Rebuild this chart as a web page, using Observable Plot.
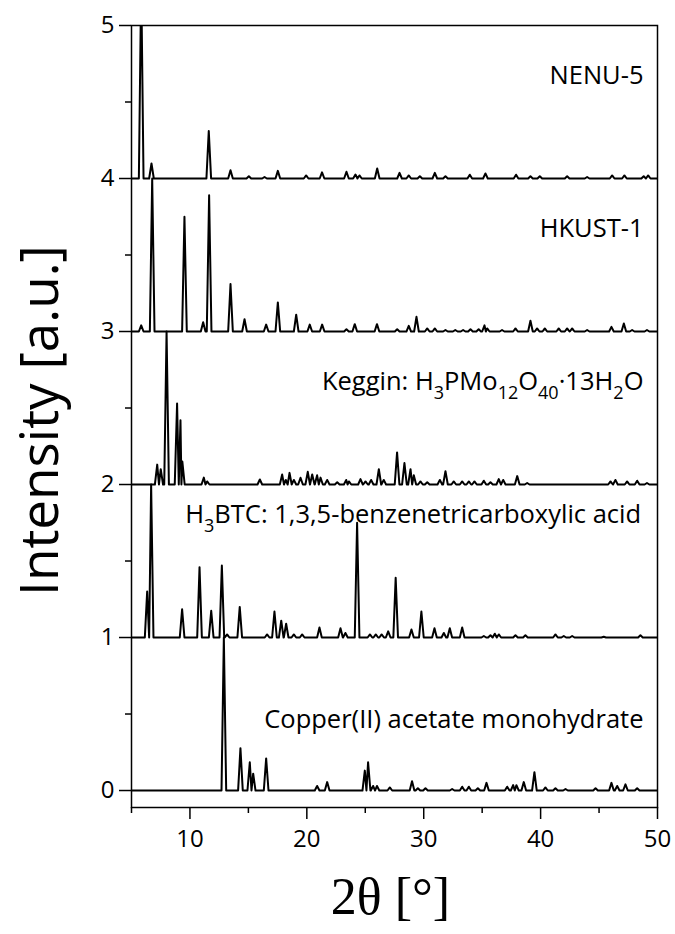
<!DOCTYPE html>
<html><head><meta charset="utf-8">
<script src="https://cdn.jsdelivr.net/npm/d3@7"></script>
<script src="https://cdn.jsdelivr.net/npm/@observablehq/plot@0.6"></script>
<style>body{margin:0;background:#fff} svg{display:block;overflow:visible}</style>
</head><body><div id="chart"></div>
<script>
// ---- data ----
const seriesNames = ["NENU-5", "HKUST-1", "Keggin", "H3BTC", "Copper(II) acetate"];
const offsets = [4, 3, 2, 1, 0];

const nenuPos = [5.83, 6.71, 11.61, 13.47, 15.04, 16.38, 17.52, 19.94, 21.3, 23.39, 24.16, 24.5, 26.02, 27.93, 28.72, 29.67, 30.95, 31.86, 33.94, 35.28, 37.9, 39.13, 39.93, 42.27, 43.98, 46.12, 47.17, 48.82, 49.2];
const nenuH   = [1.3, 0.098, 0.31, 0.054, 0.015, 0.01, 0.05, 0.02, 0.04, 0.044, 0.026, 0.02, 0.065, 0.037, 0.02, 0.015, 0.037, 0.015, 0.025, 0.033, 0.025, 0.015, 0.015, 0.015, 0.01, 0.02, 0.02, 0.015, 0.02];

const hkustPos = [5.83, 6.77, 9.53, 11.13, 11.64, 13.47, 14.67, 16.52, 17.52, 19.09, 20.25, 21.31, 23.39, 24.1, 26.0, 27.73, 28.72, 29.38, 30.3, 30.95, 31.86, 32.7, 33.37, 34.0, 34.7, 35.2, 35.43, 36.7, 37.85, 39.13, 39.7, 40.36, 41.55, 42.27, 42.7, 43.98, 46.06, 47.12, 47.83, 49.1];
const hkustH   = [0.04, 1.0, 0.75, 0.06, 0.89, 0.31, 0.08, 0.045, 0.19, 0.11, 0.045, 0.045, 0.015, 0.048, 0.048, 0.015, 0.037, 0.096, 0.02, 0.02, 0.01, 0.01, 0.01, 0.015, 0.015, 0.04, 0.02, 0.01, 0.02, 0.07, 0.02, 0.02, 0.02, 0.02, 0.02, 0.01, 0.03, 0.052, 0.01, 0.01];

const kegginPos = [7.2, 7.5, 8.0, 8.9, 9.19, 9.35, 11.19, 11.47, 15.98, 17.89, 18.2, 18.52, 18.89, 19.46, 20.08, 20.46, 20.88, 21.17, 21.74, 22.6, 23.37, 23.6, 24.59, 25.02, 25.5, 26.16, 26.58, 27.72, 28.35, 28.87, 29.15, 29.72, 30.3, 31.38, 31.86, 32.57, 33.29, 33.86, 34.34, 35.14, 35.71, 36.42, 36.8, 38.0, 38.85, 45.98, 46.4, 47.4, 48.26, 49.1];
const kegginH   = [0.13, 0.1, 1.0, 0.53, 0.42, 0.15, 0.045, 0.02, 0.033, 0.065, 0.03, 0.076, 0.03, 0.044, 0.083, 0.065, 0.06, 0.045, 0.03, 0.015, 0.03, 0.02, 0.035, 0.02, 0.03, 0.1, 0.03, 0.21, 0.14, 0.1, 0.06, 0.02, 0.015, 0.03, 0.087, 0.02, 0.02, 0.02, 0.02, 0.025, 0.015, 0.035, 0.03, 0.055, 0.01, 0.02, 0.03, 0.02, 0.025, 0.01];

const btcPos = [6.34, 6.68, 9.33, 10.82, 11.82, 12.73, 13.18, 14.26, 16.6, 17.23, 17.81, 18.23, 18.89, 19.6, 21.08, 22.88, 23.3, 24.3, 25.4, 25.9, 26.4, 26.96, 27.6, 28.95, 29.8, 30.92, 31.72, 32.23, 33.29, 35.14, 35.71, 36.08, 36.42, 37.85, 38.7, 41.27, 41.98, 42.7, 45.4, 48.54];
const btcH   = [0.3, 1.0, 0.185, 0.46, 0.175, 0.47, 0.02, 0.2, 0.02, 0.17, 0.11, 0.09, 0.02, 0.02, 0.065, 0.06, 0.03, 0.75, 0.02, 0.02, 0.02, 0.04, 0.39, 0.052, 0.17, 0.06, 0.03, 0.06, 0.065, 0.01, 0.015, 0.025, 0.02, 0.015, 0.015, 0.02, 0.01, 0.01, 0.005, 0.015];

const cuPos = [12.9, 14.32, 15.12, 15.41, 16.52, 20.88, 21.74, 24.96, 25.24, 25.67, 26.0, 27.1, 29.0, 29.5, 30.15, 32.43, 33.29, 33.86, 34.63, 35.37, 37.14, 37.65, 37.93, 38.56, 39.47, 40.41, 41.27, 42.13, 44.7, 46.06, 46.55, 47.26, 48.26];
const cuH   = [1.0, 0.277, 0.185, 0.11, 0.21, 0.03, 0.055, 0.13, 0.185, 0.03, 0.03, 0.02, 0.06, 0.015, 0.015, 0.01, 0.025, 0.025, 0.015, 0.05, 0.025, 0.035, 0.035, 0.055, 0.12, 0.02, 0.015, 0.01, 0.015, 0.05, 0.03, 0.04, 0.015];

const xTicks = [10, 20, 30, 40, 50];
const xMinor = [5, 15, 25, 35, 45];
const yTicks = [0, 1, 2, 3, 4, 5];
const yMinor = [0.5, 1.5, 2.5, 3.5, 4.5];

const labelText = ["NENU-5", "HKUST-1", "Keggin: H_{3}PMo_{12}O_{40}·13H_{2}O", "H_{3}BTC: 1,3,5-benzenetricarboxylic acid", "Copper(II) acetate monohydrate"];
const labelX = [48.8, 48.8, 48.8, 48.6, 48.8];
const labelY = [4.67, 3.67, 2.67, 1.8, 0.46];

// ---- build the line table (peak list -> narrow peaks on each baseline) ----
const W = 0.2;
function buildSeries(name, base, pos, h) {
  const pts = [{series: name, x: 5, y: base}];
  for (let i = 0; i < pos.length; i++) {
    const prev = i > 0 ? pos[i - 1] : 5;
    const next = i < pos.length - 1 ? pos[i + 1] : 50;
    const wl = Math.min(W, (pos[i] - prev) / 2), wr = Math.min(W, (next - pos[i]) / 2);
    pts.push({series: name, x: pos[i] - wl, y: base});
    pts.push({series: name, x: pos[i], y: base + h[i]});
    pts.push({series: name, x: pos[i] + wr, y: base});
  }
  pts.push({series: name, x: 50, y: base});
  return pts;
}
const allPos = [nenuPos, hkustPos, kegginPos, btcPos, cuPos];
const allH = [nenuH, hkustH, kegginH, btcH, cuH];
const lineData = seriesNames.flatMap((n, i) => buildSeries(n, offsets[i], allPos[i], allH[i]));
const labels = labelText.map((t, i) => ({text: t, x: labelX[i], y: labelY[i]}));

const chart = Plot.plot({
  width: 675, height: 934,
  marginLeft: 131, marginRight: 18, marginTop: 25, marginBottom: 127,
  x: {domain: [5, 50]},
  y: {domain: [-0.111, 5]},
  style: {fontFamily: "Open Sans", color: "black", background: "white"},
  marks: [
    Plot.line(lineData, {x: "x", y: "y", z: "series", stroke: "black", strokeWidth: 2, clip: true}),
    Plot.frame({stroke: "black", strokeWidth: 1.5}),
    Plot.axisX({ticks: xTicks, tickSize: 12, tickPadding: 10, fontSize: 24, strokeWidth: 1.5, label: null, tickFormat: d => String(d)}),
    Plot.axisX({ticks: xMinor, tickSize: 6, strokeWidth: 1.5, text: null, label: null}),
    Plot.axisY({ticks: yTicks, tickSize: 12, tickPadding: 5, fontSize: 24, strokeWidth: 1.5, label: null, tickFormat: d => String(d)}),
    Plot.axisY({ticks: yMinor, tickSize: 6, strokeWidth: 1.5, text: null, label: null}),
    Plot.text(labels, {x: "x", y: "y", text: "text", textAnchor: "end", fontSize: 25.5, fill: "black"}),
    Plot.text(["Intensity [a.u.]"], {text: d => d, frameAnchor: "left", textAnchor: "middle", lineAnchor: "middle", dx: -90, dy: 4, rotate: -90, fontSize: 53, fill: "black"}),
    Plot.text(["2θ [°]"], {text: d => d, frameAnchor: "bottom", textAnchor: "middle", lineAnchor: "middle", dx: -4, dy: 90, fontSize: 52, fontFamily: "Liberation Serif", fill: "black"})
  ]
});
document.getElementById("chart").appendChild(chart);

// subscripts: rebuild marked label text as tspans
chart.querySelectorAll("text").forEach(el => {
  const s = el.textContent;
  if (!s.includes("_{")) return;
  el.textContent = "";
  const parts = s.split(/(_\{[^}]*\})/).filter(p => p.length);
  let shifted = false;
  parts.forEach(p => {
    const t = document.createElementNS("http://www.w3.org/2000/svg", "tspan");
    if (p.startsWith("_{")) {
      t.textContent = p.slice(2, -1);
      t.setAttribute("font-size", "18");
      t.setAttribute("dy", "9");
      shifted = true;
    } else {
      t.textContent = p;
      if (shifted) { t.setAttribute("dy", "-9"); shifted = false; }
    }
    el.appendChild(t);
  });
});
</script>
</body></html>
